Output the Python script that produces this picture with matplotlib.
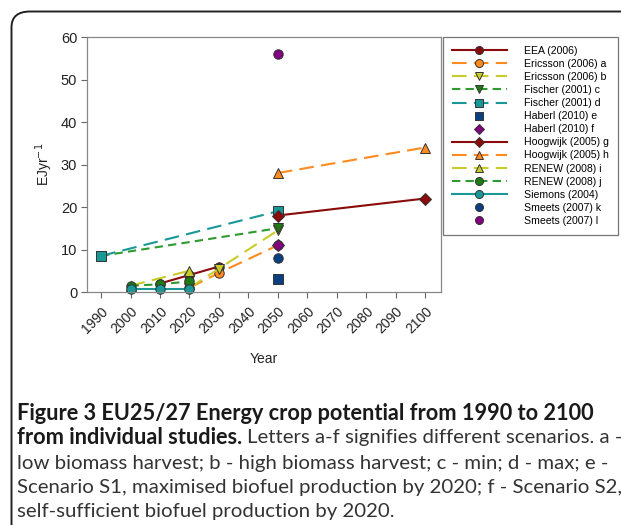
import matplotlib
matplotlib.use("Agg")
import matplotlib.pyplot as plt
import matplotlib.patches as patches

plt.rcParams['font.family'] = ['Liberation Sans', 'DejaVu Sans']

# series: (label, years, values, colour, marker, linestyle)
eea_x = [2010, 2020, 2030]
eea_y = [2.0, 4.0, 6.0]
ericsson_a_x = [2020, 2030, 2050]
ericsson_a_y = [1.0, 4.5, 11.0]
ericsson_b_x = [2020, 2030, 2050]
ericsson_b_y = [1.0, 5.5, 14.5]
fischer_c_x = [1990, 2050]
fischer_c_y = [8.5, 15.0]
fischer_d_x = [1990, 2050]
fischer_d_y = [8.5, 19.0]
haberl_e_x = [2050]
haberl_e_y = [3.0]
haberl_f_x = [2050]
haberl_f_y = [11.0]
hoogwijk_g_x = [2050, 2100]
hoogwijk_g_y = [18.0, 22.0]
hoogwijk_h_x = [2050, 2100]
hoogwijk_h_y = [28.0, 34.0]
renew_i_x = [2000, 2020]
renew_i_y = [1.5, 5.0]
renew_j_x = [2000, 2010, 2020]
renew_j_y = [1.5, 1.8, 2.5]
siemons_x = [2000, 2010, 2020]
siemons_y = [0.8, 0.8, 0.8]
smeets_k_x = [2050]
smeets_k_y = [8.0]
smeets_l_x = [2050]
smeets_l_y = [56.0]

year_ticks = list(range(1990, 2101, 10))
value_ticks = [0, 10, 20, 30, 40, 50, 60]

DRED = '#8b0a0a'
ORANGE = '#ff8a1e'
YELLOW = '#c8cc2a'
GREEN = '#2f9a2f'
DGREEN = '#1f7a12'
TEAL = '#1a9898'
NAVY = '#0a3f80'
PURPLE = '#800080'

LONG = (0, (7, 3.5))
SHORT = (0, (4, 2.5))

series = [
    ('EEA (2006)', eea_x, eea_y, DRED, DRED, 'o', '-'),
    ('Ericsson (2006) a', ericsson_a_x, ericsson_a_y, ORANGE, ORANGE, 'o', LONG),
    ('Ericsson (2006) b', ericsson_b_x, ericsson_b_y, YELLOW, YELLOW, 'v', LONG),
    ('Fischer (2001) c', fischer_c_x, fischer_c_y, GREEN, DGREEN, 'v', SHORT),
    ('Fischer (2001) d', fischer_d_x, fischer_d_y, TEAL, TEAL, 's', LONG),
    ('Haberl (2010) e', haberl_e_x, haberl_e_y, NAVY, NAVY, 's', 'none'),
    ('Haberl (2010) f', haberl_f_x, haberl_f_y, PURPLE, PURPLE, 'D', 'none'),
    ('Hoogwijk (2005) g', hoogwijk_g_x, hoogwijk_g_y, DRED, DRED, 'D', '-'),
    ('Hoogwijk (2005) h', hoogwijk_h_x, hoogwijk_h_y, ORANGE, ORANGE, '^', LONG),
    ('RENEW (2008) i', renew_i_x, renew_i_y, YELLOW, YELLOW, '^', LONG),
    ('RENEW (2008) j', renew_j_x, renew_j_y, GREEN, DGREEN, 'o', SHORT),
    ('Siemons (2004)', siemons_x, siemons_y, TEAL, TEAL, 'o', '-'),
    ('Smeets (2007) k', smeets_k_x, smeets_k_y, NAVY, NAVY, 'o', 'none'),
    ('Smeets (2007) l', smeets_l_x, smeets_l_y, PURPLE, PURPLE, 'o', 'none'),
]

fig = plt.figure(figsize=(6.21, 5.25), dpi=100)
W, H = 621, 525

# rounded frame around the figure panel
frame = patches.FancyBboxPatch((11.5 / W, -20 / H), 640 / W, (513.5 + 20) / H,
                               boxstyle='round,pad=0,rounding_size=0.03',
                               transform=fig.transFigure, fill=False,
                               ec='#222222', lw=1.4)
fig.patches.append(frame)

ax = fig.add_axes([87 / W, 1 - 292 / H, (441 - 87) / W, (292 - 37) / H])

for label, xs, ys, lc, mc, mk, ls in series:
    ms = 6.8 if mk in ('o', 's') else 7.2
    if mk == 'D':
        ms = 5.8
    ax.plot(xs, ys, color=lc, linestyle=ls, lw=1.5, marker=mk,
            markersize=ms, markerfacecolor=mc, markeredgecolor='#333333',
            markeredgewidth=0.7, label=label, clip_on=False)

ax.set_xlim(1985.2, 2105.4)
ax.set_ylim(0, 60)
ax.set_xticks(year_ticks)
ax.set_yticks(value_ticks)
ax.set_xticklabels([str(y) for y in year_ticks], rotation=45, ha='right',
                   rotation_mode='anchor', fontsize=10, color='#222222')
ax.set_yticklabels([str(v) for v in value_ticks], fontsize=10.5, color='#222222')
ax.tick_params(direction='out', length=4, width=0.8, color='#666666', pad=3)
ax.tick_params(axis='x', pad=5)
for s in ax.spines.values():
    s.set_color('#888888')
    s.set_linewidth(0.9)
ax.set_xlabel('Year', fontsize=10, color='#222222', labelpad=11)
ax.set_ylabel('EJyr$^{-1}$', fontsize=10, color='#222222', labelpad=4)

leg = ax.legend(loc='upper left', bbox_to_anchor=(443 / W, 1 - 37 / H),
                bbox_transform=fig.transFigure, fontsize=7.6,
                handlelength=5.2, handletextpad=1.6, labelspacing=0.29,
                borderpad=0.85, borderaxespad=0, fancybox=False,
                frameon=True, markerscale=0.85)
leg.get_frame().set_edgecolor('#555555')
leg.get_frame().set_linewidth(0.9)

# caption below the chart: bold title followed by regular description
cap_font = ['Lato', 'DejaVu Sans']
cap_x = 17 / W
line_y = [413, 438, 463, 488, 512]
bold_col = '#1a1a1a'
reg_col = '#333333'
renderer = fig.canvas.get_renderer()


def fit_size(txt, width_px, **kw):
    # font size that makes txt span width_px pixels
    t = fig.text(0, 0, txt, family=cap_font, fontsize=10, **kw)
    w = t.get_window_extent(renderer=renderer).width
    t.remove()
    return 10 * width_px / w


title1 = 'Figure 3 EU25/27 Energy crop potential from 1990 to 2100'
rest = [
    'low biomass harvest; b - high biomass harvest; c - min; d - max; e -',
    'Scenario S1, maximised biofuel production by 2020; f - Scenario S2,',
    'self-sufficient biofuel production by 2020.',
]
bold_size = fit_size(title1, 580, weight='bold')
reg_size = fit_size(rest[0], 590)

fig.text(cap_x, 1 - line_y[0] / H, title1,
         family=cap_font, fontsize=bold_size, weight='bold', color=bold_col, va='center')
t_bold = fig.text(cap_x, 1 - line_y[1] / H, 'from individual studies.',
                  family=cap_font, fontsize=bold_size, weight='bold', color=bold_col, va='center')
bb = t_bold.get_window_extent(renderer=renderer)
fig.text(bb.x1 / W + 5 / W, 1 - line_y[1] / H,
         'Letters a-f signifies different scenarios. a -',
         family=cap_font, fontsize=reg_size, color=reg_col, va='center')
for txt, yy in zip(rest, line_y[2:]):
    fig.text(cap_x, 1 - yy / H, txt, family=cap_font, fontsize=reg_size,
             color=reg_col, va='center')

fig.savefig('out.png', dpi=100)
